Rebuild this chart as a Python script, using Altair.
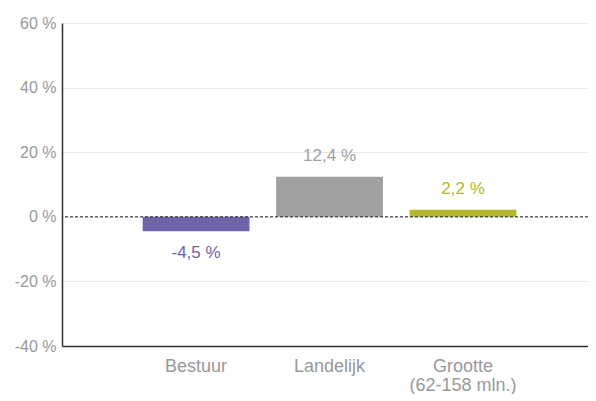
import altair as alt
import pandas as pd

categories = ["Bestuur", "Landelijk", "Grootte|(62-158 mln.)"]
values = [-4.5, 12.4, 2.2]
labels = ["-4,5 %", "12,4 %", "2,2 %"]
colors = ["#6e64a8", "#a0a0a0", "#b5b82b"]

df = pd.DataFrame({"cat": categories, "val": values, "label": labels})

FONT = "Liberation Sans"

x = alt.X("cat:N", sort=categories, title=None,
          scale=alt.Scale(paddingInner=0.2, paddingOuter=0.57, align=0.53),
          axis=alt.Axis(labelAngle=0, labelFont=FONT, labelFontSize=18, labelColor="#999999",
                        labelPadding=11, labelLineHeight=19, ticks=False,
                        domainColor="#333333", domainWidth=1.5,
                        labelExpr="split(datum.label, '|')"))
color = alt.Color("cat:N", sort=categories, legend=None,
                  scale=alt.Scale(domain=categories, range=colors))

base = alt.Chart(df)

bars = base.mark_bar().encode(
    x=x,
    y=alt.Y("val:Q", title=None,
            scale=alt.Scale(domain=[-40, 60], nice=False),
            axis=alt.Axis(values=[-40, -20, 0, 20, 40, 60], labelExpr="datum.value + ' %'",
                          labelFont=FONT, labelFontSize=16, labelColor="#999999",
                          ticks=False, labelPadding=6, gridColor="#e8e8e8",
                          domainColor="#333333", domainWidth=1.5)),
    color=color,
)

zero = alt.Chart(pd.DataFrame({"z": [0]})).mark_rule(
    color="#222222", strokeDash=[3, 2], strokeWidth=1
).encode(y="z:Q")

pos_text = base.transform_filter("datum.val >= 0").mark_text(
    baseline="bottom", dy=-12, font=FONT, fontSize=17
).encode(x=x, y="val:Q", text="label:N", color=color)

neg_text = base.transform_filter("datum.val < 0").mark_text(
    baseline="top", dy=14, font=FONT, fontSize=17
).encode(x=x, y="val:Q", text="label:N", color=color)

chart = alt.layer(bars, zero, pos_text, neg_text).properties(
    width=526, height=323,
    padding={"left": 54, "top": 15, "right": 0, "bottom": 48},
    autosize=alt.AutoSizeParams(type="none"),
).configure_view(stroke=None).configure_axis(gridWidth=1)

chart.save("out.html", embed_options={"renderer": "svg", "actions": False})
